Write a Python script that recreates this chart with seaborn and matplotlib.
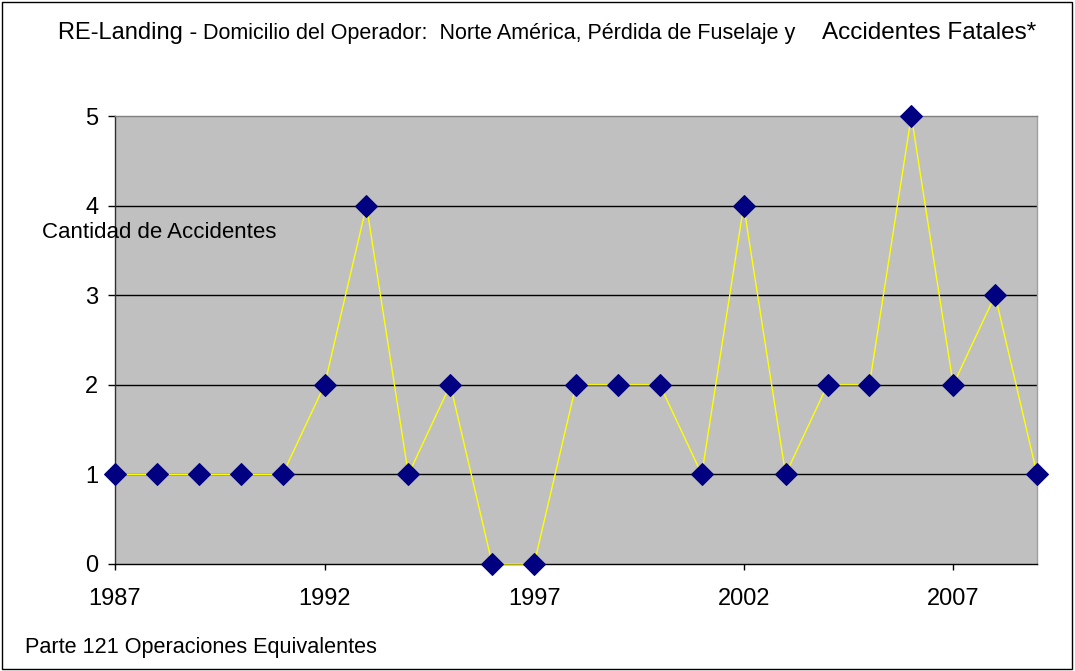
import pandas as pd
import numpy as np
import matplotlib
matplotlib.use('Agg')
import matplotlib.pyplot as plt
import seaborn as sns
from matplotlib.patches import Rectangle

# Datos: accidentes por año
anios = list(range(1987, 2010))
accidentes = [1, 1, 1, 1, 1, 2, 4, 1, 2, 0, 0, 2, 2, 2, 1, 4, 1, 2, 2, 5, 2, 3, 1]
ticks_x = [1987, 1992, 1997, 2002, 2007]
ticks_y = [0, 1, 2, 3, 4, 5]

titulo_grande_1 = 'RE-Landing - '
titulo_chico = 'Domicilio del Operador:  Norte América, Pérdida de Fuselaje y '
titulo_grande_2 = 'Accidentes Fatales*'

df = pd.DataFrame({'anio': anios, 'accidentes': accidentes})

sns.set_theme(style='white', rc={'axes.facecolor': '#C0C0C0'})
plt.rcParams['font.family'] = ['Liberation Sans', 'DejaVu Sans']
plt.rcParams['text.color'] = 'black'
plt.rcParams['xtick.color'] = 'black'
plt.rcParams['ytick.color'] = 'black'

fig = plt.figure(figsize=(10.75, 6.71), dpi=100)
ax = fig.add_axes([0.107, 0.1595, 0.8577, 0.6676])

sns.lineplot(data=df, x='anio', y='accidentes', ax=ax, color='#FFFF00', linewidth=1,
             marker='D', markersize=11.5, markerfacecolor='#000080',
             markeredgecolor='#000080', zorder=3)
for ln in ax.get_lines():
    ln.set_clip_on(False)

ax.set_xlim(1987, 2009)
ax.set_ylim(0, 5)
ax.set_xticks(ticks_x)
ax.set_yticks(ticks_y)
ax.set_xticklabels([str(t) for t in ticks_x], fontsize=17)
ax.set_yticklabels([str(t) for t in ticks_y], fontsize=17)
ax.tick_params(axis='x', direction='out', length=4, width=1, pad=13, color='black',
               labelcolor='black', bottom=True)
ax.tick_params(axis='y', direction='out', length=5, width=1, pad=7, color='black',
               labelcolor='black', left=True)

# líneas de cuadrícula
for yv in ticks_y[1:-1]:
    ax.axhline(yv, color='black', linewidth=1, zorder=1)

ax.spines['left'].set_color('#303030')
ax.spines['bottom'].set_color('black')
ax.spines['top'].set_color('#808080')
ax.spines['right'].set_color('#A0A0A0')
for s in ax.spines.values():
    s.set_linewidth(1)

ax.set_xlabel('')
ax.set_ylabel('')

# etiqueta del eje Y (horizontal, superpuesta)
fig.text(42 / 1075, 1 - 232 / 671, 'Cantidad de Accidentes', fontsize=16, va='center', ha='left')

# título con tamaños mixtos
y_tit = 1 - 39 / 671
fig.text(58 / 1075, y_tit, titulo_grande_1, fontsize=17, va='baseline', ha='left')
fig.text(203 / 1075, y_tit, titulo_chico, fontsize=15.5, va='baseline', ha='left')
fig.text(822 / 1075, y_tit, titulo_grande_2, fontsize=17.5, va='baseline', ha='left')

fig.text(25 / 1075, 1 - 653 / 671, 'Parte 121 Operaciones Equivalentes', fontsize=15.6,
         va='baseline', ha='left')

# marco de la figura
fig.patches.append(Rectangle((0.002, 0.003), 0.995, 0.994, transform=fig.transFigure,
                             fill=False, edgecolor='black', linewidth=1))

fig.savefig('out.png', dpi=100)
